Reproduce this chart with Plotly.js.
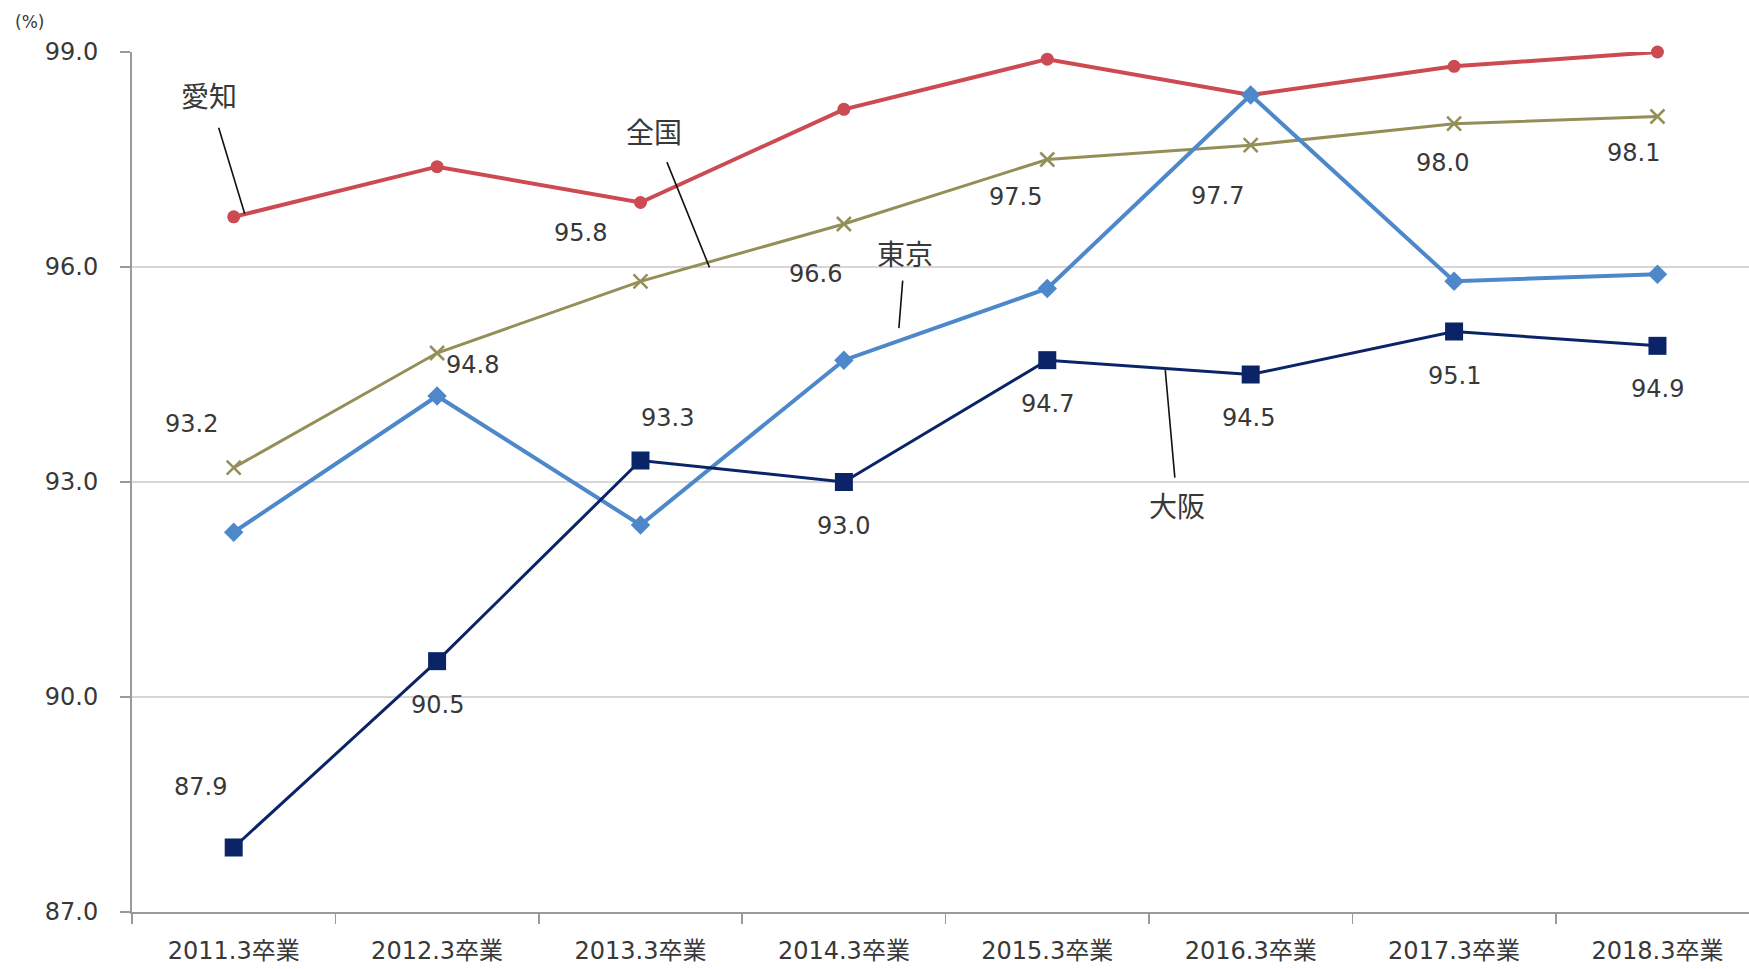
<!DOCTYPE html>
<html>
<head>
<meta charset="utf-8">
<script src="https://cdn.plot.ly/plotly-3.0.1.min.js"></script>
<style>html,body{margin:0;padding:0;background:#fff;overflow:hidden}#chart{width:1749px;height:969px}</style>
</head>
<body>
<div id="chart"></div>
<script>
// ---- data ----
const categories = ["2011.3卒業","2012.3卒業","2013.3卒業","2014.3卒業","2015.3卒業","2016.3卒業","2017.3卒業","2018.3卒業"];
const aichi  = [96.7, 97.4, 96.9, 98.2, 98.9, 98.4, 98.8, 99.0];
const zenkoku = [93.2, 94.8, 95.8, 96.6, 97.5, 97.7, 98.0, 98.1];
const tokyo  = [92.3, 94.2, 92.4, 94.7, 95.7, 98.4, 95.8, 95.9];
const osaka  = [87.9, 90.5, 93.3, 93.0, 94.7, 94.5, 95.1, 94.9];
const yTicks = [87, 90, 93, 96, 99];
const seriesNames = ["愛知", "全国", "東京", "大阪"];

// ---- label placement (pixel offsets of value labels from their points) ----
const zenkokuLabelOffsets = [[-42,-44],[35,12],[-60,-48],[-28,50],[-32,37],[-33,51],[-12,39],[-24,36]];
const osakaLabelOffsets   = [[-33,-61],[0,44],[27,-43],[0,44],[0,44],[-2,43],[0,44],[0,43]];

const FONT = "DejaVu Sans, Noto Sans CJK JP, sans-serif";
const TEXTC = "#383838";

const traces = [
  {name: seriesNames[0], x: categories, y: aichi, type: "scatter", mode: "lines+markers", cliponaxis: false,
   line: {color: "#CC4A52", width: 4}, marker: {symbol: "circle", size: 13, color: "#CC4A52"}},
  {name: seriesNames[1], x: categories, y: zenkoku, type: "scatter", mode: "lines+markers", cliponaxis: false,
   line: {color: "#948F58", width: 3}, marker: {symbol: "x-thin", size: 14, color: "#948F58", line: {color: "#948F58", width: 2.5}}},
  {name: seriesNames[2], x: categories, y: tokyo, type: "scatter", mode: "lines+markers", cliponaxis: false,
   line: {color: "#4D88CB", width: 4}, marker: {symbol: "diamond", size: 15, color: "#4D88CB"}},
  {name: seriesNames[3], x: categories, y: osaka, type: "scatter", mode: "lines+markers", cliponaxis: false,
   line: {color: "#0A2467", width: 3}, marker: {symbol: "square", size: 18, color: "#0A2467"}}
];

const annotations = [];
const fmt = v => v.toFixed(1);
zenkoku.forEach((v, i) => annotations.push({
  x: categories[i], y: v, xref: "x", yref: "y", text: fmt(v), showarrow: false,
  xshift: zenkokuLabelOffsets[i][0], yshift: -zenkokuLabelOffsets[i][1],
  font: {family: FONT, size: 24, color: TEXTC}
}));
osaka.forEach((v, i) => annotations.push({
  x: categories[i], y: v, xref: "x", yref: "y", text: fmt(v), showarrow: false,
  xshift: osakaLabelOffsets[i][0], yshift: -osakaLabelOffsets[i][1],
  font: {family: FONT, size: 24, color: TEXTC}
}));

// series name callouts with leader lines
const callouts = [
  {name: seriesNames[0], data: aichi,   idx: 0, xs: 11,  ys: 3,   ax: -36, ay: -119, so: 12},
  {name: seriesNames[1], data: zenkoku, idx: 2, xs: 69,  ys: 14,  ax: -55, ay: -136, so: 10},
  {name: seriesNames[2], data: tokyo,   idx: 3, xs: 55,  ys: 32,  ax: 6,   ay: -75,  so: 6},
  {name: seriesNames[3], data: osaka,   idx: 4, xs: 118, ys: -10, ax: 12,  ay: 135,  so: 6}
];
callouts.forEach(c => annotations.push({
  x: categories[c.idx], y: c.data[c.idx], xref: "x", yref: "y",
  xshift: c.xs, yshift: c.ys, ax: c.ax, ay: c.ay,
  text: c.name, showarrow: true, arrowhead: 0, arrowwidth: 1.6, arrowcolor: "#111",
  startstandoff: c.so,
  font: {family: "Noto Sans CJK JP, sans-serif", size: 28, color: TEXTC}
}));

annotations.push({
  xref: "paper", yref: "paper", x: 0, y: 1, xshift: -103, yshift: 30,
  xanchor: "center", yanchor: "middle", showarrow: false, text: "(%)",
  font: {family: FONT, size: 17, color: TEXTC}
});

const layout = {
  width: 1749, height: 969,
  margin: {l: 132, r: 0, t: 52, b: 57},
  paper_bgcolor: "#fff", plot_bgcolor: "#fff",
  showlegend: false,
  font: {family: FONT, color: TEXTC},
  xaxis: {
    type: "category", range: [-0.5, 7.45], tickson: "boundaries",
    showline: true, linecolor: "#9a9a9a", linewidth: 2,
    ticks: "outside", ticklen: 10, tickcolor: "#9a9a9a", tickwidth: 1.5,
    showgrid: false, zeroline: false, ticklabelstandoff: 16,
    tickfont: {family: FONT, size: 24, color: TEXTC}
  },
  yaxis: {
    range: [87, 99], tickvals: yTicks, ticktext: yTicks.map(v => v.toFixed(1)),
    showline: true, linecolor: "#9a9a9a", linewidth: 2,
    ticks: "outside", ticklen: 10, tickcolor: "#9a9a9a", tickwidth: 1.5,
    showgrid: true, gridcolor: "#d6d6d6", gridwidth: 2, zeroline: false,
    ticklabelstandoff: 17,
    tickfont: {family: FONT, size: 24, color: TEXTC}
  },
  annotations: annotations
};

Plotly.newPlot("chart", traces, layout, {displayModeBar: false, staticPlot: true});
</script>
</body>
</html>
